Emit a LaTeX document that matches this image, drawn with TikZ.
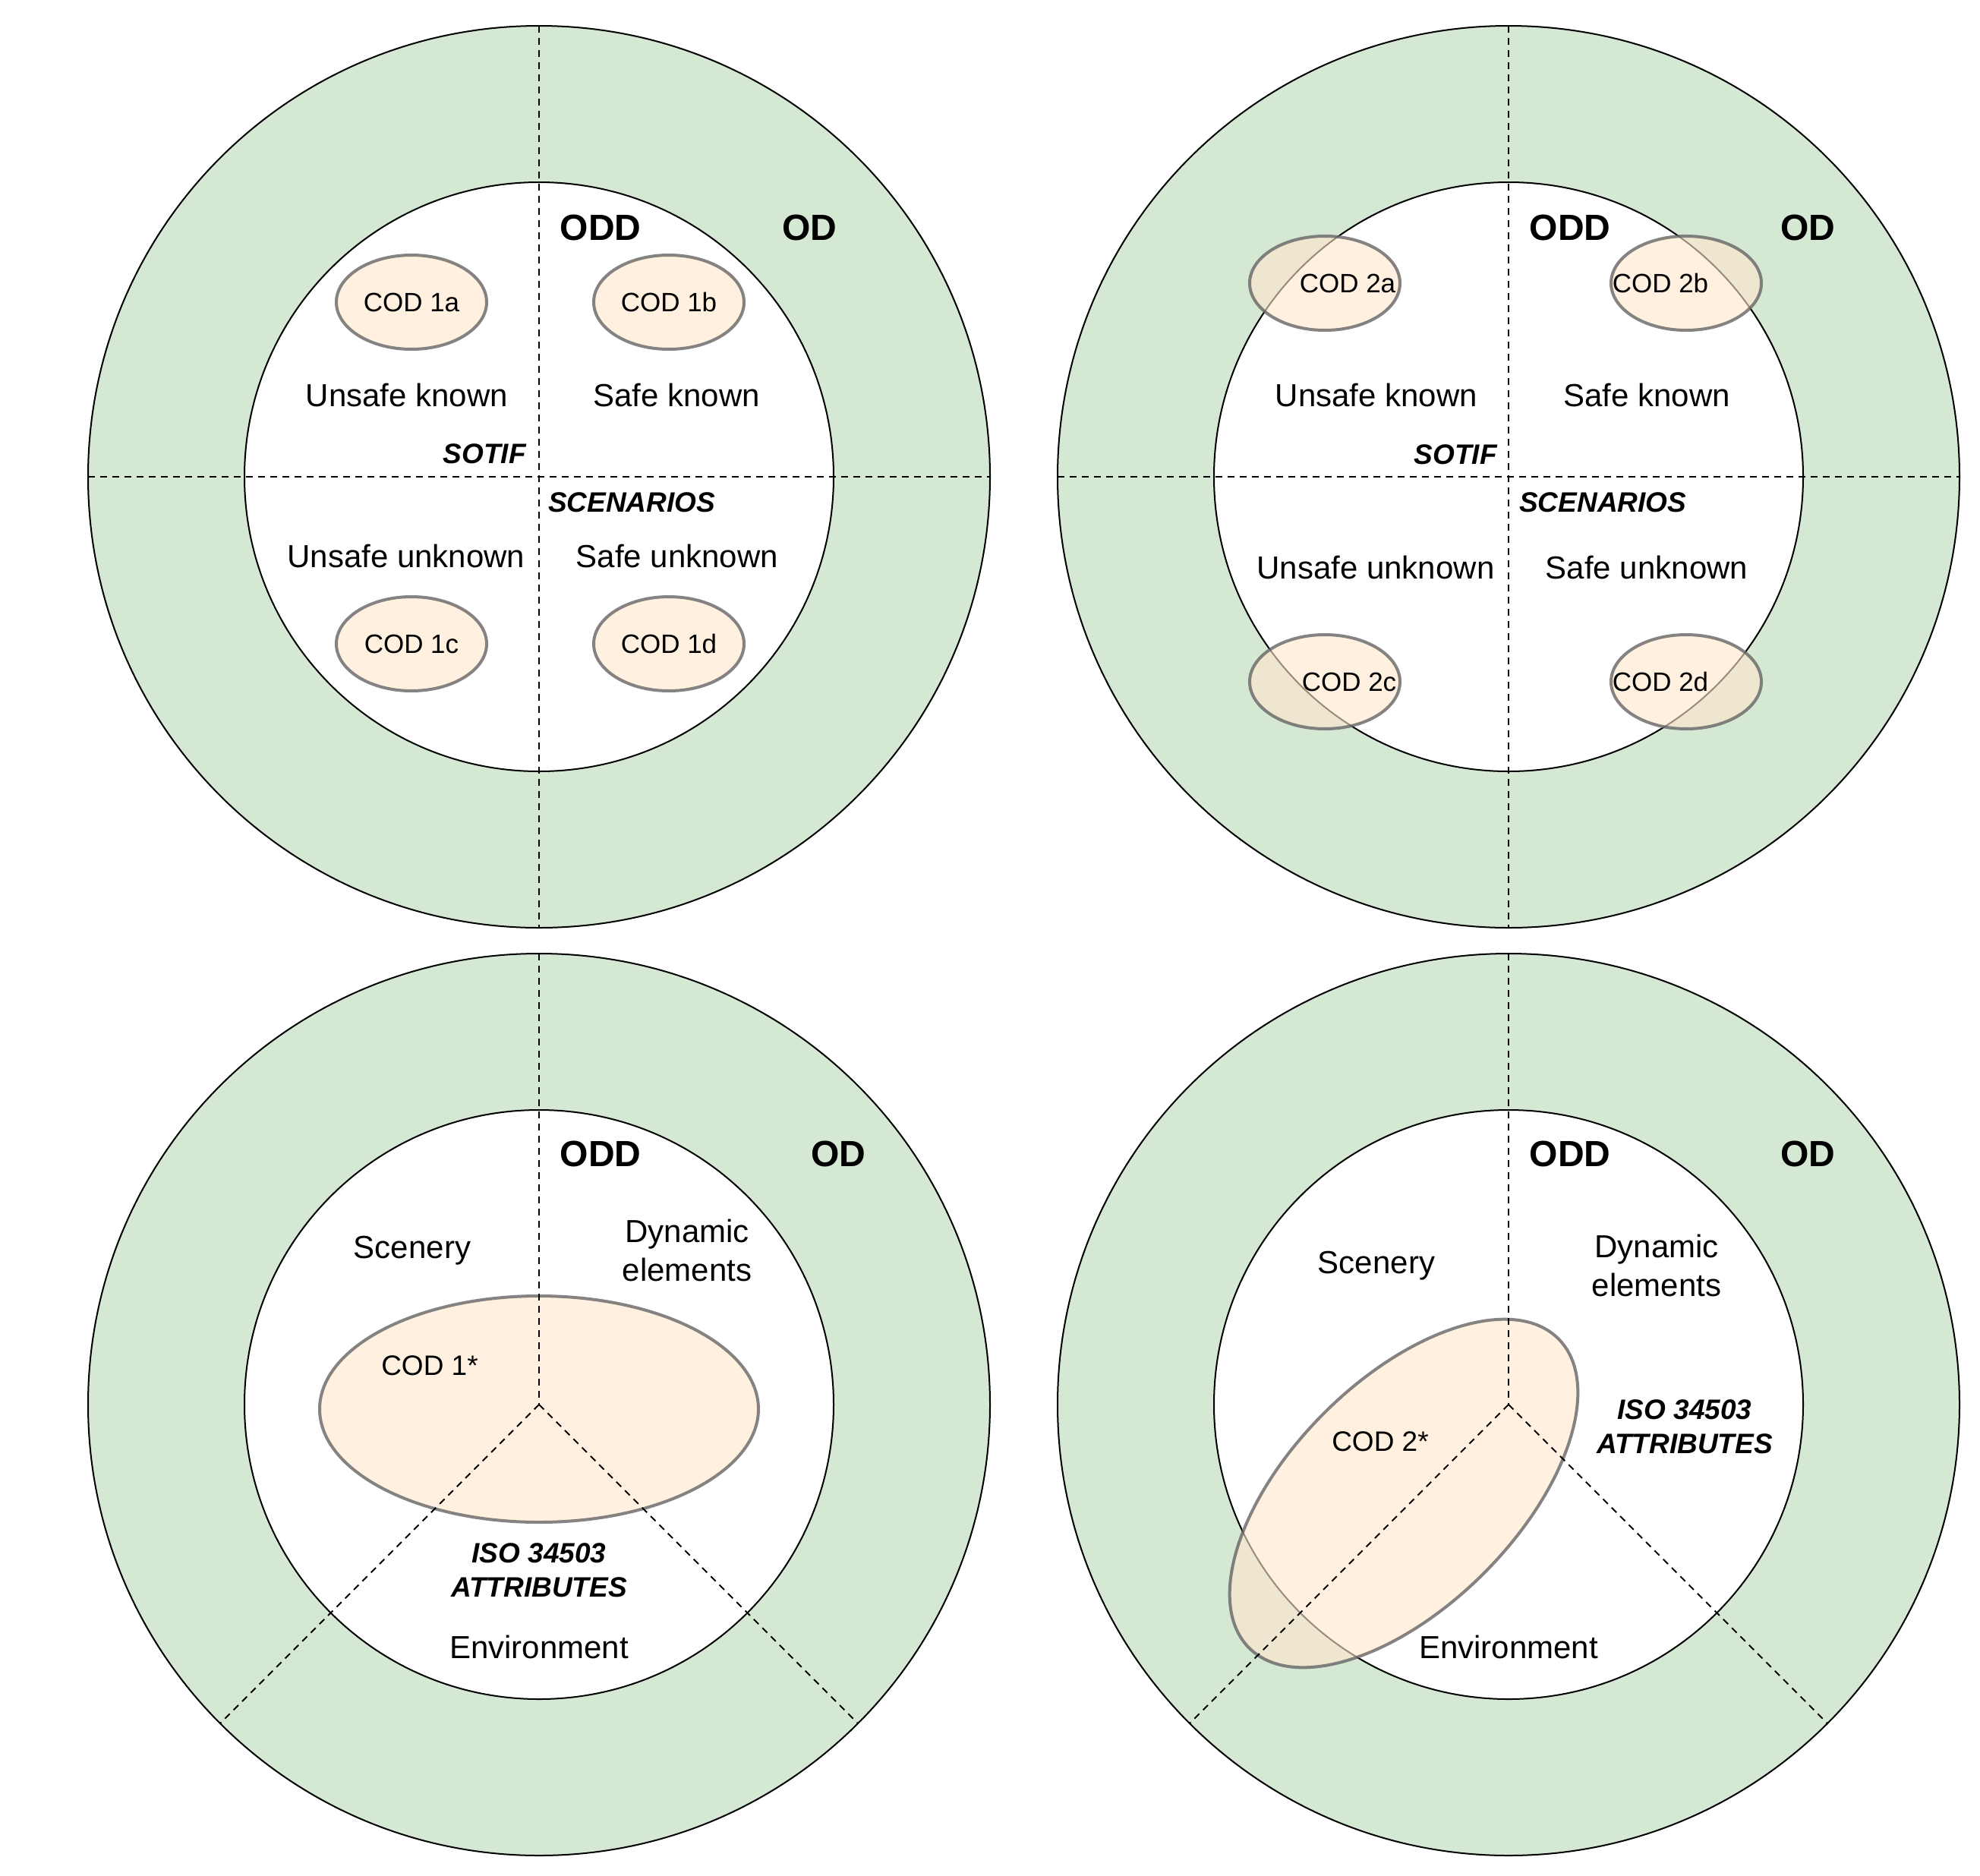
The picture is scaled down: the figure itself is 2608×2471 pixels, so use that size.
\documentclass[tikz,border=0pt]{standalone}
\usepackage{fontspec}
\setmainfont{Liberation Sans}
\usetikzlibrary{shapes.geometric}
\definecolor{ringgreen}{HTML}{D5E8D4}
\definecolor{codfill}{HTML}{FFE6CC}
\definecolor{codline}{HTML}{666666}
\tikzset{
  outerring/.style={circle, draw=black, fill=ringgreen, line width=2pt, minimum size=1188pt, inner sep=0pt, outer sep=0pt},
  innerdisk/.style={circle, draw=black, fill=white, line width=2pt, minimum size=776pt, inner sep=0pt, outer sep=0pt},
  divider/.style={draw=black, line width=2pt, dash pattern=on 9pt off 7pt},
  cod/.style={ellipse, draw=codline, draw opacity=0.8, fill=codfill, fill opacity=0.6, text opacity=1, line width=4pt, inner sep=0pt, font=\fontsize{35}{42}\selectfont},
  smallcod/.style={cod, minimum width=198pt, minimum height=124pt},
  codtext/.style={font=\fontsize{35}{42}\selectfont, inner sep=0pt},
  lbl/.style={font=\fontsize{42}{51}\selectfont, align=center, inner sep=0pt},
  big/.style={font=\fontsize{48}{58}\selectfont\bfseries, inner sep=0pt},
  tag/.style={font=\fontsize{37}{45}\selectfont\bfseries\itshape, align=center, inner sep=0pt},
}
\begin{document}
\begin{tikzpicture}[x=1pt,y=-1pt]
\useasboundingbox (0,0) rectangle (2608,2471);
\fill[white] (0,0) rectangle (2608,2471);

% ---------- Top-left ----------
\node[outerring] (o1) at (710,628) {};
\node[innerdisk] (i1) at (710,628) {};
\draw[divider] (o1.west) -- (o1.east);
\draw[divider] (o1.north) -- (o1.south);
\node[smallcod] (c1a) at (542,398) {COD 1a};
\node[smallcod] (c1b) at (881,398) {COD 1b};
\node[smallcod] (c1c) at (542,848) {COD 1c};
\node[smallcod] (c1d) at (881,848) {COD 1d};
\node[big] (odd1) at (791,300) {ODD};
\node[big] (od1) at (1066,300) {OD};
\node[lbl] (uk1) at (536,520) {Unsafe known};
\node[lbl] (sk1) at (891,520) {Safe known};
\node[lbl] (uu1) at (535,732) {Unsafe unknown};
\node[lbl] (su1) at (892,732) {Safe unknown};
\node[tag, anchor=east] (sotif1) at (693,598) {SOTIF};
\node[tag, anchor=west] (scen1) at (722,662) {SCENARIOS};

% ---------- Top-right ----------
\node[outerring] (o2) at (1987,628) {};
\node[innerdisk] (i2) at (1987,628) {};
\draw[divider] (o2.west) -- (o2.east);
\draw[divider] (o2.north) -- (o2.south);
\node[smallcod] (c2a) at (1745,373) {};
\node[smallcod] (c2b) at (2221,373) {};
\node[smallcod] (c2c) at (1745,898) {};
\node[smallcod] (c2d) at (2221,898) {};
\node[codtext] (t2a) at (1775,373) {COD 2a};
\node[codtext] (t2b) at (2187,373) {COD 2b};
\node[codtext] (t2c) at (1777,898) {COD 2c};
\node[codtext] (t2d) at (2187,898) {COD 2d};
\node[big] (odd2) at (2068,300) {ODD};
\node[big] (od2) at (2381,300) {OD};
\node[lbl] (uk2) at (1813,520) {Unsafe known};
\node[lbl] (sk2) at (2169,520) {Safe known};
\node[lbl] (uu2) at (1812,747) {Unsafe unknown};
\node[lbl] (su2) at (2169,747) {Safe unknown};
\node[tag, anchor=east] (sotif2) at (1972,599) {SOTIF};
\node[tag, anchor=west] (scen2) at (2001,662) {SCENARIOS};

% ---------- Bottom-left ----------
\node[outerring] (o3) at (710,1850) {};
\node[innerdisk] (i3) at (710,1850) {};
\node[cod, minimum width=578pt, minimum height=298pt] (c1s) at (710,1856) {};
\draw[divider] (o3.north) -- (o3.center);
\draw[divider] (o3.center) -- (o3.-135);
\draw[divider] (o3.center) -- (o3.-45);
\node[codtext, font=\fontsize{37}{44}\selectfont] (t1s) at (566,1799) {COD 1*};
\node[big] (odd3) at (791,1520) {ODD};
\node[big] (od3) at (1104,1520) {OD};
\node[lbl] (sc3) at (543,1647) {Scenery};
\node[lbl] (dy3) at (905,1647) {Dynamic\\elements};
\node[tag] (iso3) at (710,2068) {ISO 34503\\ATTRIBUTES};
\node[lbl] (en3) at (710,2169) {Environment};

% ---------- Bottom-right ----------
\node[outerring] (o4) at (1987,1850) {};
\node[innerdisk] (i4) at (1987,1850) {};
\node[cod, rotate=45, minimum width=576pt, minimum height=298pt] (c2s) at (1849,1967) {};
\draw[divider] (o4.north) -- (o4.center);
\draw[divider] (o4.center) -- (o4.-135);
\draw[divider] (o4.center) -- (o4.-45);
\node[codtext, font=\fontsize{37}{44}\selectfont] (t2s) at (1818,1899) {COD 2*};
\node[big] (odd4) at (2068,1520) {ODD};
\node[big] (od4) at (2381,1520) {OD};
\node[lbl] (sc4) at (1813,1667) {Scenery};
\node[lbl] (dy4) at (2182,1667) {Dynamic\\elements};
\node[tag] (iso4) at (2219,1879) {ISO 34503\\ATTRIBUTES};
\node[lbl] (en4) at (1987,2169) {Environment};
\end{tikzpicture}
\end{document}
